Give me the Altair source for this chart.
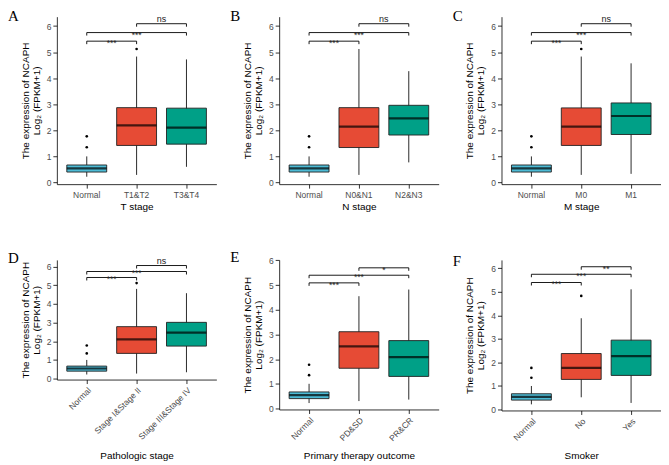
import altair as alt
import pandas as pd

FONT = "Liberation Sans"
COLORS = ["#4DBBD5", "#E64B35", "#00A087"]

letters = ["A", "B", "C", "D", "E", "F"]
x_titles = ["T stage", "N stage", "M stage", "Pathologic stage",
            "Primary therapy outcome", "Smoker"]
categories = [
    ["Normal", "T1&T2", "T3&T4"],
    ["Normal", "N0&N1", "N2&N3"],
    ["Normal", "M0", "M1"],
    ["Normal", "Stage I&Stage II", "Stage III&Stage IV"],
    ["Normal", "PD&SD", "PR&CR"],
    ["Normal", "No", "Yes"],
]
q1 = [[0.40, 1.42, 1.47], [0.40, 1.34, 1.82], [0.40, 1.42, 1.84],
      [0.40, 1.35, 1.74], [0.40, 1.63, 1.30], [0.40, 1.28, 1.45]]
median = [[0.54, 2.19, 2.10], [0.54, 2.14, 2.46], [0.54, 2.14, 2.55],
          [0.54, 2.10, 2.46], [0.54, 2.52, 2.08], [0.54, 1.77, 2.27]]
q3 = [[0.67, 2.87, 2.85], [0.67, 2.87, 2.96], [0.67, 2.86, 3.05],
      [0.67, 2.78, 3.01], [0.67, 3.11, 2.75], [0.67, 2.38, 2.95]]
whisker_low = [[0.22, 0.29, 0.60], [0.22, 0.29, 0.77], [0.22, 0.29, 0.33],
               [0.22, 0.27, 0.34], [0.22, 0.30, 0.36], [0.22, 0.52, 0.28]]
whisker_high = [[1.0, 4.83, 4.72], [1.0, 5.12, 4.27], [1.0, 4.83, 4.57],
                [1.0, 4.80, 4.57], [1.0, 4.55, 4.82], [1.0, 3.88, 5.11]]
outliers = [
    [[1.35, 1.77], [5.12], []],
    [[1.35, 1.77], [], []],
    [[1.35, 1.77], [5.12], []],
    [[1.35, 1.77], [5.11], []],
    [[1.35, 1.77], [], []],
    [[1.35, 1.77], [4.83], []],
]
bracket_from = [1, 1, 2]
bracket_to = [2, 3, 3]
bracket_y = [[5.42, 5.75, 6.09], [5.42, 5.75, 6.09], [5.42, 5.75, 6.09],
             [5.41, 5.73, 6.05], [5.09, 5.40, 5.70], [5.40, 5.75, 6.07]]
bracket_labels = [["***", "***", "ns"], ["***", "***", "ns"], ["***", "***", "ns"],
                  ["***", "***", "ns"], ["***", "***", "*"], ["***", "***", "**"]]
y_ticks = [0, 1, 2, 3, 4, 5, 6]
y_min = [-0.065, -0.065, -0.065, -0.05, -0.04, -0.04]
y_max = [6.36, 6.36, 6.36, 6.35, 6.02, 6.36]
heights = [168, 168, 168, 120, 150, 151]
x_title_y = [22, 22, 22, 76, 46, 45]


def panel(i):
    cats = categories[i]
    box = pd.DataFrame({"group": cats, "slot": [0, 1, 2], "q1": q1[i],
                        "median": median[i], "q3": q3[i],
                        "lo": whisker_low[i], "hi": whisker_high[i]})
    out = pd.DataFrame([{"group": c, "value": v}
                        for c, vs in zip(cats, outliers[i]) for v in vs])
    br = pd.DataFrame({"x1": bracket_from, "x2": bracket_to,
                       "y": bracket_y[i], "label": bracket_labels[i]})
    br["mid"] = (br["x1"] + br["x2"]) / 2
    ends = pd.concat([br[["x1", "y"]].rename(columns={"x1": "xe"}),
                      br[["x2", "y"]].rename(columns={"x2": "xe"})])

    bottom_row = i >= 3
    xax = alt.Axis(title=x_titles[i], labelAngle=-45 if bottom_row else 0,
                   titleY=x_title_y[i], titleBaseline="middle")
    xs = alt.Scale(domain=cats, type="band", paddingInner=0.2, paddingOuter=0.2)
    X = alt.X("group:N", scale=xs, axis=xax, sort=cats)
    yax = alt.Axis(values=y_ticks, title=["The expression of NCAPH", "Log\u2082 (FPKM+1)"],
                   titlePadding=5, titleLineHeight=11)
    ys = alt.Scale(domain=[y_min[i], y_max[i]], nice=False, zero=False)

    whisk = alt.Chart(box).mark_rule(color="#2b2b2b", strokeWidth=1).encode(
        x=X, y=alt.Y("lo:Q", scale=ys, axis=yax), y2="hi:Q")
    bars = alt.Chart(box).mark_bar(stroke="#222222", strokeWidth=0.9).encode(
        x=X, y=alt.Y("q1:Q", scale=ys, axis=yax), y2="q3:Q",
        color=alt.Color("slot:N", scale=alt.Scale(domain=[0, 1, 2], range=COLORS),
                        legend=None))
    med = alt.Chart(box).mark_tick(color="black", size=40, thickness=2.2).encode(
        x=X, y=alt.Y("median:Q", scale=ys, axis=yax))
    pts = alt.Chart(out).mark_circle(color="black", size=7, opacity=1).encode(
        x=X, y=alt.Y("value:Q", scale=ys, axis=yax))
    boxes = alt.layer(whisk, bars, med, pts)

    bx = alt.Scale(domain=[0.4, 3.6], nice=False, zero=False)
    hlines = alt.Chart(br).mark_rule(color="black", strokeWidth=0.9).encode(
        x=alt.X("x1:Q", scale=bx, axis=None), x2="x2:Q",
        y=alt.Y("y:Q", scale=ys, axis=yax))
    drops = alt.Chart(ends).mark_rule(color="black", strokeWidth=0.9, y2Offset=3).encode(
        x=alt.X("xe:Q", scale=bx, axis=None),
        y=alt.Y("y:Q", scale=ys, axis=yax), y2="y:Q")
    stars = alt.Chart(br).transform_filter("datum.label != 'ns'").mark_text(
        font=FONT, fontSize=8.5, baseline="alphabetic", dy=5, color="#222222").encode(
        x=alt.X("mid:Q", scale=bx, axis=None),
        y=alt.Y("y:Q", scale=ys, axis=yax), text="label:N")
    ns = alt.Chart(br).transform_filter("datum.label == 'ns'").mark_text(
        font=FONT, fontSize=9, baseline="alphabetic", dy=-1.5, color="#222222").encode(
        x=alt.X("mid:Q", scale=bx, axis=None),
        y=alt.Y("y:Q", scale=ys, axis=yax), text="label:N")
    brackets = alt.layer(hlines, drops, stars, ns)

    return alt.layer(boxes, brackets).resolve_scale(x="independent").properties(
        width=160, height=heights[i],
        title=alt.TitleParams(letters[i], anchor="start", frame="group",
                              font="Liberation Serif", fontSize=15, fontWeight="normal",
                              color="black", dx=-49, dy=13))


chart = alt.concat(*[panel(i) for i in range(6)], columns=3,
                   spacing={"row": 76, "column": 63}, bounds="flush").properties(
    padding=0).configure_view(stroke=None).configure_axis(
    grid=False, domainColor="black", tickColor="black", domainWidth=0.8,
    tickWidth=0.8, tickSize=4, labelPadding=2, labelFont=FONT, titleFont=FONT,
    labelColor="#4D4D4D", titleColor="black", labelFontSize=8.5, titleFontSize=10,
    titleFontWeight="normal").configure_title(offset=0)

chart.save("out.html", embed_options={"renderer": "svg", "actions": False})
